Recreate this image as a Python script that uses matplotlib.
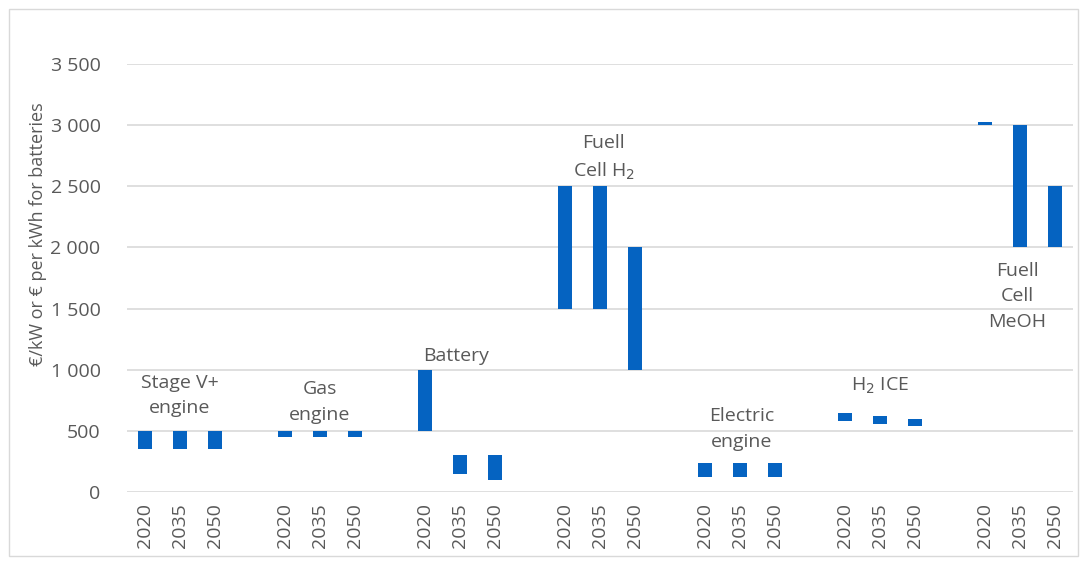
import matplotlib.pyplot as plt
from matplotlib.patches import Rectangle
import numpy as np

# technology groups and years
technologies = ['Stage V+\nengine', 'Gas\nengine', 'Battery', 'Fuell\nCell H$_2$',
                'Electric\nengine', 'H$_2$ ICE', 'Fuell\nCell\nMeOH']
years = ['2020', '2035', '2050']

# cost ranges (low, high) per technology, one value per year
low = [
    [350, 350, 350],
    [450, 450, 450],
    [500, 150, 100],
    [1500, 1500, 1000],
    [120, 120, 120],
    [580, 560, 540],
    [3000, 2000, 2000],
]
high = [
    [500, 500, 500],
    [500, 500, 500],
    [1000, 300, 300],
    [2500, 2500, 2000],
    [240, 240, 240],
    [650, 620, 600],
    [3025, 3000, 2500],
]

# label placement (x in slot units, y in data units)
label_pos = [(1, 790), (5, 735), (8.9, 1110), (13.1, 2730),
             (17.05, 515), (21, 866), (24.9, 1600)]

blue = '#0563C1'
grey = '#595959'
plt.rcParams['font.family'] = ['Open Sans', 'DejaVu Sans']

fig = plt.figure(figsize=(10.81, 5.66), dpi=100)
ax = fig.add_axes([127 / 1081, 1 - 492 / 566, (1073 - 127) / 1081, (492 - 64) / 566])

xpos = []
xlabels = []
for g in range(len(technologies)):
    for k in range(len(years)):
        x = g * 4 + k
        xpos.append(x)
        xlabels.append(years[k])
        ax.bar(x, high[g][k] - low[g][k], bottom=low[g][k], width=0.4,
               color=blue, zorder=3)
    ax.text(label_pos[g][0], label_pos[g][1], technologies[g], ha='center',
            va='center', fontsize=14, color=grey, linespacing=1.55, zorder=4)

ax.set_xlim(-0.5, 26.5)
ax.set_ylim(0, 3500)
ax.set_yticks(np.arange(0, 3501, 500))
ax.set_yticklabels([f'{v:,}'.replace(',', ' ') for v in range(0, 3501, 500)])
ax.set_xticks(xpos)
ax.set_xticklabels(xlabels, rotation=90)
ax.tick_params(axis='both', length=0, labelsize=14, labelcolor=grey)
ax.tick_params(axis='y', pad=19)
ax.tick_params(axis='x', pad=8)
ax.grid(axis='y', color='#D9D9D9', linewidth=1.2, zorder=0)
for s in ax.spines.values():
    s.set_visible(False)

fig.text(38 / 1081, 1 - 234 / 566, '€/kW or € per kWh for batteries', rotation=90,
         ha='center', va='center', fontsize=13, color=grey)

fig.patches.append(Rectangle((9 / 1081, 1 - 556 / 566), (1078 - 9) / 1081, (556 - 9) / 566,
                             transform=fig.transFigure, fill=False,
                             edgecolor='#D9D9D9', linewidth=1))

fig.savefig('out.png', dpi=100)
